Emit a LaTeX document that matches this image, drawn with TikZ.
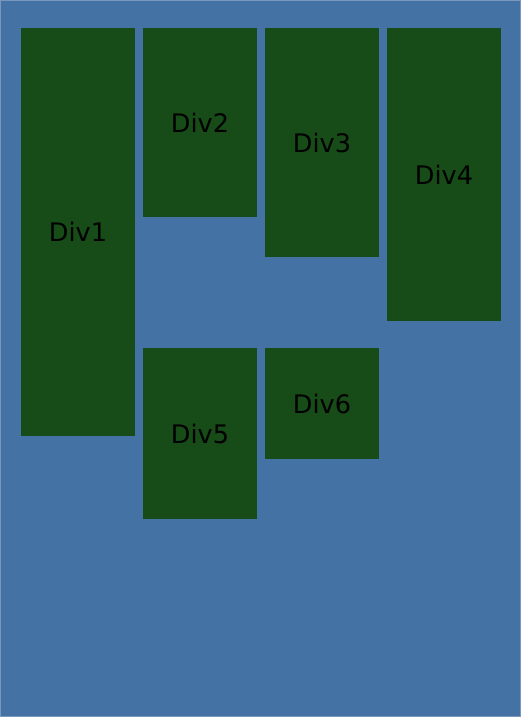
\documentclass[tikz,border=0pt]{standalone}
\usepackage{fontspec}
\setmainfont{DejaVu Sans}
\usepackage{xcolor}
\usepackage{tikz}

\definecolor{pagebg}{HTML}{4472A4}
\definecolor{pageedge}{HTML}{7A98BE}
\definecolor{divgreen}{HTML}{174B17}

\tikzset{
    divbox/.style={fill=divgreen, inner sep=0pt, text=black,
        font=\fontsize{25.5}{30}\selectfont, minimum width=114pt}
}

\begin{document}
\begin{tikzpicture}[x=1pt, y=-1pt]
            \draw[fill=pagebg, draw=pageedge, line width=0.8pt] (0.4, 0.4) rectangle (520.6, 716.6);
            \useasboundingbox (0, 0) rectangle (521, 717);

            \node[divbox, minimum height=408pt] (div1) at (78, 232) {Div1};
            \node[divbox, minimum height=189pt] (div2) at (200, 122.5) {Div2};
            \node[divbox, minimum height=229pt] (div3) at (322, 142.5) {Div3};
            \node[divbox, minimum height=293pt] (div4) at (444, 174.5) {Div4};
            \node[divbox, minimum height=171pt] (div5) at (200, 433.5) {Div5};
            \node[divbox, minimum height=111pt] (div6) at (322, 403.5) {Div6};
        \end{tikzpicture}
\end{document}
